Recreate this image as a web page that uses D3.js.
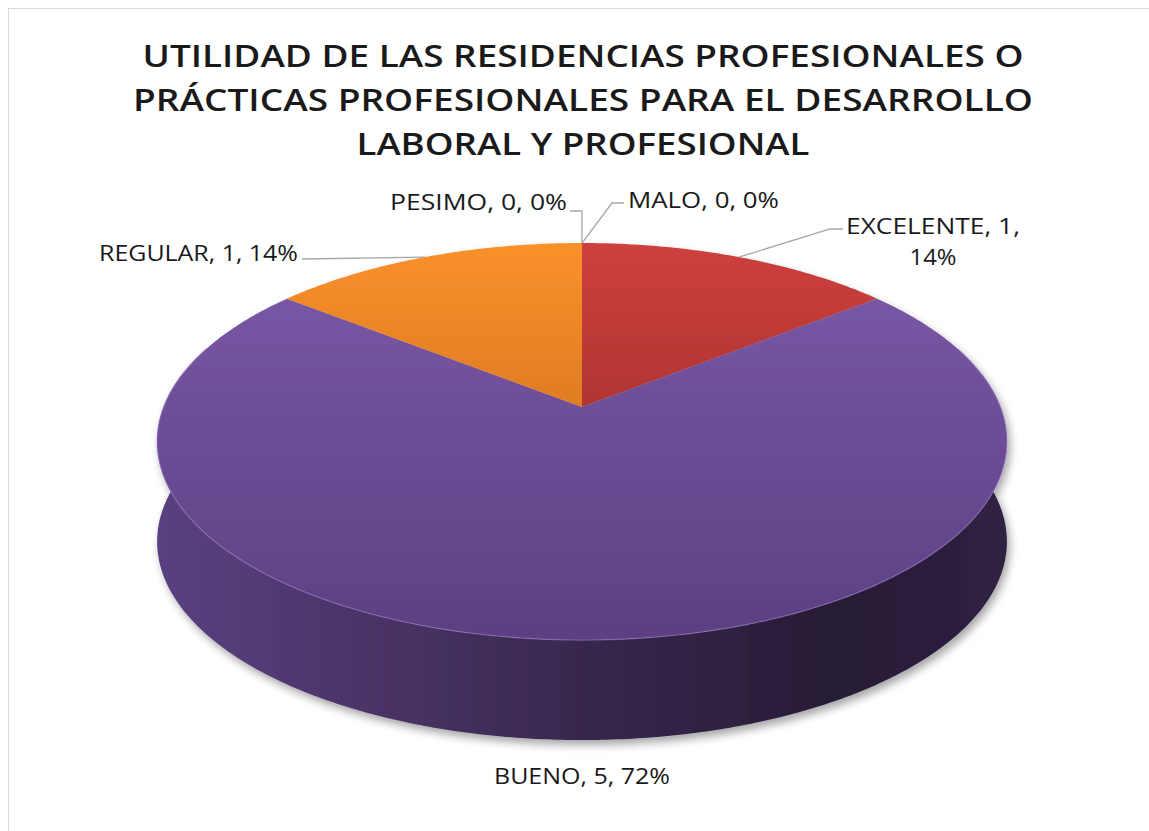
<!DOCTYPE html>
<html>
<head>
<meta charset="utf-8">
<script src="https://cdn.jsdelivr.net/npm/d3@7"></script>
<style>
  body { margin: 0; background: #fff; }
  text { font-family: "Open Sans", "DejaVu Sans", sans-serif; fill: #1a1a1a; }
</style>
</head>
<body>
<div id="chart"></div>
<script>
// data
const categories = ["EXCELENTE", "BUENO", "REGULAR", "PESIMO", "MALO"];
const values = [1, 5, 1, 0, 0];
const percents = ["14%", "72%", "14%", "0%", "0%"];
const titleLines = [
  "UTILIDAD DE LAS RESIDENCIAS PROFESIONALES O",
  "PRÁCTICAS PROFESIONALES PARA EL DESARROLLO",
  "LABORAL Y PROFESIONAL"
];

// svg size
let width = 1149;
let height = 831;

let svg = d3.select("#chart")
            .append("svg")
            .attr("width", width)
            .attr("height", height);

// chart frame
svg.append("rect")
    .attr("x", 8.5).attr("y", 8.5)
    .attr("width", 1160).attr("height", 840)
    .attr("fill", "none")
    .attr("stroke", "#d9d9d9");

// title
let titleWidths = [881, 900, 453];
svg.selectAll(".title")
    .data(titleLines)
    .enter()
    .append("text")
    .attr("class", "title")
    .attr("x", 583)
    .attr("y", (d, i) => 67 + i * 44)
    .attr("text-anchor", "middle")
    .attr("textLength", (d, i) => titleWidths[i])
    .attr("lengthAdjust", "spacingAndGlyphs")
    .style("font-size", "31px")
    .style("font-weight", 600)
    .text(d => d);

// perspective projection of the pie disc
let cx = 582, cy = 407;      // projected centre of the disc
let a = 418.4, b = 192.5, k = -0.174;
let depth = 100;

function proj(theta, dy) {
    let u = Math.sin(theta), v = -Math.cos(theta);
    let den = 1 + k * v;
    return [cx + a * u / den, cy + b * v / den + (dy || 0)];
}

function arcPoints(t0, t1, dy) {
    let n = Math.max(2, Math.ceil(Math.abs(t1 - t0) / 0.01));
    let pts = [];
    for (let i = 0; i <= n; i++) {
        pts.push(proj(t0 + (t1 - t0) * i / n, dy));
    }
    return pts;
}

let line = d3.line();

let pie = d3.pie().sort(null).startAngle(0).endAngle(2 * Math.PI);
let slices = pie(values);

// gradients
let defs = svg.append("defs");
let topColors = {
    EXCELENTE: ["#cd403d", "#8a2422"],
    BUENO: ["#7c59a9", "#5b4082"],
    REGULAR: ["#f9912b", "#bb5e18"],
    PESIMO: ["#a5a5a5", "#7f7f7f"],
    MALO: ["#4472c4", "#2f5597"]
};
categories.forEach(c => {
    let g = defs.append("linearGradient")
        .attr("id", "top-" + c)
        .attr("gradientUnits", "userSpaceOnUse")
        .attr("x1", 0).attr("y1", 243).attr("x2", 0).attr("y2", 640);
    g.append("stop").attr("offset", 0).attr("stop-color", topColors[c][0]);
    g.append("stop").attr("offset", 1).attr("stop-color", topColors[c][1]);
});

let side = defs.append("linearGradient")
    .attr("id", "side")
    .attr("gradientUnits", "userSpaceOnUse")
    .attr("x1", 157).attr("y1", 0).attr("x2", 1008).attr("y2", 0);
[[0, "#5a4081"], [0.25, "#4a3466"], [0.5, "#37284e"], [0.8, "#271b35"], [1, "#2f2142"]]
    .forEach(s => side.append("stop").attr("offset", s[0]).attr("stop-color", s[1]));

let shadow = defs.append("filter")
    .attr("id", "shadow")
    .attr("x", "-10%").attr("y", "-10%")
    .attr("width", "120%").attr("height", "130%");
shadow.append("feDropShadow")
    .attr("dx", 3).attr("dy", 5)
    .attr("stdDeviation", 4)
    .attr("flood-color", "#000")
    .attr("flood-opacity", 0.35);

let pieGroup = svg.append("g").attr("filter", "url(#shadow)");

// front wall of the cylinder (only BUENO covers the front)
let tL = Math.acos(-k) , tR = 2 * Math.PI - Math.acos(-k);
slices.forEach((s, i) => {
    let t0 = Math.max(s.startAngle, tL), t1 = Math.min(s.endAngle, tR);
    if (t1 <= t0) return;
    let pts = arcPoints(t0, t1, 0).concat(arcPoints(t1, t0, depth));
    pieGroup.append("path")
        .attr("d", line(pts) + "Z")
        .attr("fill", "url(#side)");
});

// top faces
pieGroup.selectAll(".slice")
    .data(slices.filter(s => s.value > 0))
    .enter()
    .append("path")
    .attr("class", "slice")
    .attr("d", s => line([[cx, cy]].concat(arcPoints(s.startAngle, s.endAngle, 0))) + "Z")
    .attr("fill", s => "url(#top-" + categories[s.index] + ")");

// soft highlight along the front rim
pieGroup.append("path")
    .attr("d", line(arcPoints(tL - 0.15, tR + 0.15, 0)))
    .attr("fill", "none")
    .attr("stroke", "#9a7cc4")
    .attr("stroke-width", 1.2)
    .attr("opacity", 0.6);

// labels
let labelInfo = {
    EXCELENTE: { lines: ["EXCELENTE, 1,", "14%"], x: 933, y: 234, anchor: "middle", widths: [174, 47], bend: [[830, 229], [843, 229]] },
    BUENO: { lines: ["BUENO, 5, 72%"], x: 582, y: 784, anchor: "middle", widths: [176], bend: null },
    REGULAR: { lines: ["REGULAR, 1, 14%"], x: 298, y: 261, anchor: "end", widths: [199], bend: [[302, 259]] },
    PESIMO: { lines: ["PESIMO, 0, 0%"], x: 567, y: 210, anchor: "end", widths: [177], bend: [[582, 211], [570, 211]] },
    MALO: { lines: ["MALO, 0, 0%"], x: 628, y: 208, anchor: "start", widths: [151], bend: [[612, 203], [624, 203]] }
};

slices.forEach(s => {
    let c = categories[s.index];
    let info = labelInfo[c];
    let mid = (s.startAngle + s.endAngle) / 2;
    if (info.bend) {
        svg.append("path")
            .attr("d", line([proj(mid, 0)].concat(info.bend)))
            .attr("fill", "none")
            .attr("stroke", "#a6a6a6")
            .attr("stroke-width", 1.3);
    }
    info.lines.forEach((t, j) => {
        svg.append("text")
            .attr("x", info.x)
            .attr("y", info.y + j * 31)
            .attr("text-anchor", info.anchor)
            .attr("textLength", info.widths[j])
            .attr("lengthAdjust", "spacingAndGlyphs")
            .style("font-size", "21px")
            .text(t);
    });
});
</script>
</body>
</html>
